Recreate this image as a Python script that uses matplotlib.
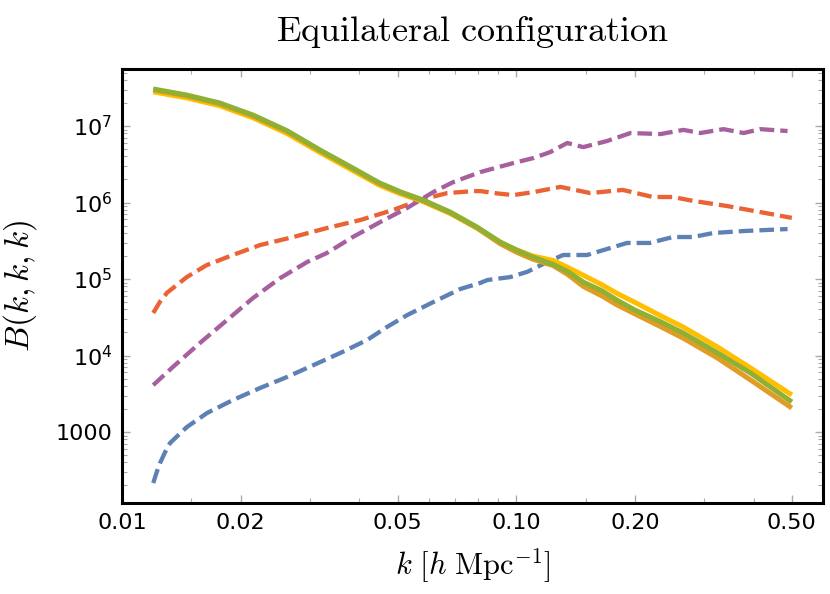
import matplotlib
matplotlib.use("Agg")
import matplotlib.pyplot as plt
from matplotlib.ticker import FixedLocator, NullFormatter

plt.rcParams['mathtext.fontset'] = 'cm'
plt.rcParams['font.family'] = ['DejaVu Sans']

# ---- data ----
solid_k = [0.012, 0.0146, 0.0177, 0.0215, 0.0262, 0.0318, 0.0386, 0.045, 0.051, 0.058,
           0.068, 0.0795, 0.091, 0.1, 0.11, 0.124, 0.135, 0.148, 0.165, 0.18,
           0.2, 0.23, 0.265, 0.324, 0.393, 0.5]
green = [3.05e7, 2.54e7, 2.0e7, 1.39e7, 8.7e6, 4.85e6, 2.8e6, 1.8e6, 1.37e6, 1.08e6,
         7.5e5, 4.78e5, 3.05e5, 2.4e5, 1.94e5, 1.55e5, 1.25e5, 9.1e4, 7.0e4, 5.3e4,
         3.93e4, 2.83e4, 1.97e4, 1.08e4, 5900, 2470]
gold = [2.8e7, 2.33e7, 1.84e7, 1.28e7, 8.0e6, 4.5e6, 2.6e6, 1.68e6, 1.29e6, 1.03e6,
        7.2e5, 4.65e5, 3.0e5, 2.42e5, 2.0e5, 1.75e5, 1.42e5, 1.12e5, 8.4e4, 6.5e4,
        4.95e4, 3.4e4, 2.36e4, 1.29e4, 6870, 3050]
orange = [2.98e7, 2.48e7, 1.95e7, 1.35e7, 8.5e6, 4.75e6, 2.74e6, 1.76e6, 1.34e6, 1.05e6,
          7.3e5, 4.65e5, 2.9e5, 2.25e5, 1.82e5, 1.5e5, 1.15e5, 8.0e4, 6.0e4, 4.6e4,
          3.5e4, 2.45e4, 1.69e4, 9270, 4790, 2060]

red_k = [0.012, 0.0125, 0.013, 0.0146, 0.0164, 0.0191, 0.0224, 0.0272, 0.0331, 0.0402,
         0.0487, 0.057, 0.0669, 0.0779, 0.0811, 0.09, 0.0983, 0.1107, 0.1294, 0.154,
         0.1864, 0.2222, 0.2499, 0.281, 0.3424, 0.4156, 0.5]
red = [3.6e4, 5.1e4, 6.6e4, 1.06e5, 1.52e5, 2.06e5, 2.78e5, 3.54e5, 4.64e5, 5.9e5,
       7.98e5, 1.08e6, 1.33e6, 1.41e6, 1.41e6, 1.31e6, 1.25e6, 1.37e6, 1.6e6, 1.33e6,
       1.46e6, 1.18e6, 1.18e6, 1.05e6, 9.0e5, 7.5e5, 6.3e5]

purple_k = [0.012, 0.01347, 0.01577, 0.01847, 0.0215, 0.0252, 0.0295, 0.0331, 0.0385, 0.0452,
            0.0529, 0.0616, 0.0692, 0.0811, 0.0983, 0.1107, 0.122, 0.1347, 0.1479, 0.17,
            0.195, 0.2323, 0.2654, 0.2931, 0.3355, 0.3775, 0.4156, 0.4878]
purple = [4.1e3, 7.1e3, 1.46e4, 2.91e4, 5.65e4, 1.03e5, 1.67e5, 2.19e5, 3.54e5, 5.56e5,
          8.5e5, 1.37e6, 1.85e6, 2.5e6, 3.28e6, 3.82e6, 4.57e6, 6.0e6, 5.3e6, 6.37e6,
          8.1e6, 7.85e6, 8.9e6, 8.1e6, 9.1e6, 8.1e6, 9.1e6, 8.6e6]

blue_k = [0.012, 0.01225, 0.01249, 0.01285, 0.01324, 0.0146, 0.01643, 0.01912, 0.0224, 0.0262,
          0.0306, 0.0358, 0.0419, 0.047, 0.0529, 0.0616, 0.0721, 0.0811, 0.0845, 0.0966,
          0.1066, 0.1199, 0.1315, 0.1513, 0.1731, 0.191, 0.2182, 0.2496, 0.2808, 0.3158,
          0.3775, 0.4878]
blue = [215, 300, 394, 540, 718, 1160, 1770, 2620, 3760, 5230,
        7500, 1.08e4, 1.6e4, 2.36e4, 3.38e4, 5.0e4, 7.4e4, 8.9e4, 9.7e4, 1.06e5,
        1.24e5, 1.67e5, 2.06e5, 2.06e5, 2.54e5, 2.96e5, 2.96e5, 3.54e5, 3.54e5, 3.99e5,
        4.24e5, 4.5e5]

x_major = [0.01, 0.02, 0.05, 0.1, 0.2, 0.5]
x_major_labels = ["0.01", "0.02", "0.05", "0.10", "0.20", "0.50"]
x_minor = [0.015, 0.03, 0.04, 0.06, 0.07, 0.08, 0.09, 0.15, 0.3, 0.4]
y_major = [1e3, 1e4, 1e5, 1e6, 1e7]
y_major_labels = ["1000", r"$\mathdefault{10^{4}}$", r"$\mathdefault{10^{5}}$",
                  r"$\mathdefault{10^{6}}$", r"$\mathdefault{10^{7}}$"]
y_minor = [m * 10.0 ** e for e in range(2, 8) for m in range(2, 10)]

# ---- figure ----
fig = plt.figure(figsize=(8.3, 5.94), dpi=100)
ax = fig.add_axes([0.147, 0.1532, 0.8446, 0.7306])

dash = (3.4, 1.4)
lw_d = 3.1
ax.plot(blue_k, blue, color='#5E81B5', lw=lw_d, dashes=dash, dash_capstyle='butt')
ax.plot(red_k, red, color='#EB6235', lw=lw_d, dashes=dash, dash_capstyle='butt')
ax.plot(purple_k, purple, color='#A5609D', lw=lw_d, dashes=dash, dash_capstyle='butt')
lw_s = 3.6
ax.plot(solid_k, gold, color='#FFBF00', lw=lw_s, solid_capstyle='butt')
ax.plot(solid_k, orange, color='#E19C24', lw=lw_s, solid_capstyle='butt')
ax.plot(solid_k, green, color='#8FB032', lw=lw_s, solid_capstyle='butt')

ax.set_xscale('log')
ax.set_yscale('log')
ax.set_xlim(0.01, 0.6)
ax.set_ylim(118, 5.56e7)

ax.xaxis.set_major_locator(FixedLocator(x_major))
ax.set_xticklabels(x_major_labels)
ax.xaxis.set_minor_locator(FixedLocator(x_minor))
ax.xaxis.set_minor_formatter(NullFormatter())
ax.yaxis.set_major_locator(FixedLocator(y_major))
ax.set_yticklabels(y_major_labels)
ax.yaxis.set_minor_locator(FixedLocator(y_minor))
ax.yaxis.set_minor_formatter(NullFormatter())

ax.tick_params(which='both', direction='in', top=True, right=True, color='#AAAAAA',
               labelsize=16, labelcolor='black')
ax.tick_params(which='major', length=6, width=1.0, pad=7)
ax.tick_params(which='minor', length=3.5, width=0.8)
for s in ax.spines.values():
    s.set_linewidth(2.2)
    s.set_color('black')

ax.set_xlabel(r'$k\ [h\ \mathrm{Mpc}^{-1}]$', fontsize=22, labelpad=10)
ax.set_ylabel(r'$B(k,k,k)$', fontsize=24, labelpad=12)
ax.set_title(r'$\mathrm{Equilateral\ configuration}$', fontsize=26, pad=20)

fig.savefig('out.png', dpi=100)
